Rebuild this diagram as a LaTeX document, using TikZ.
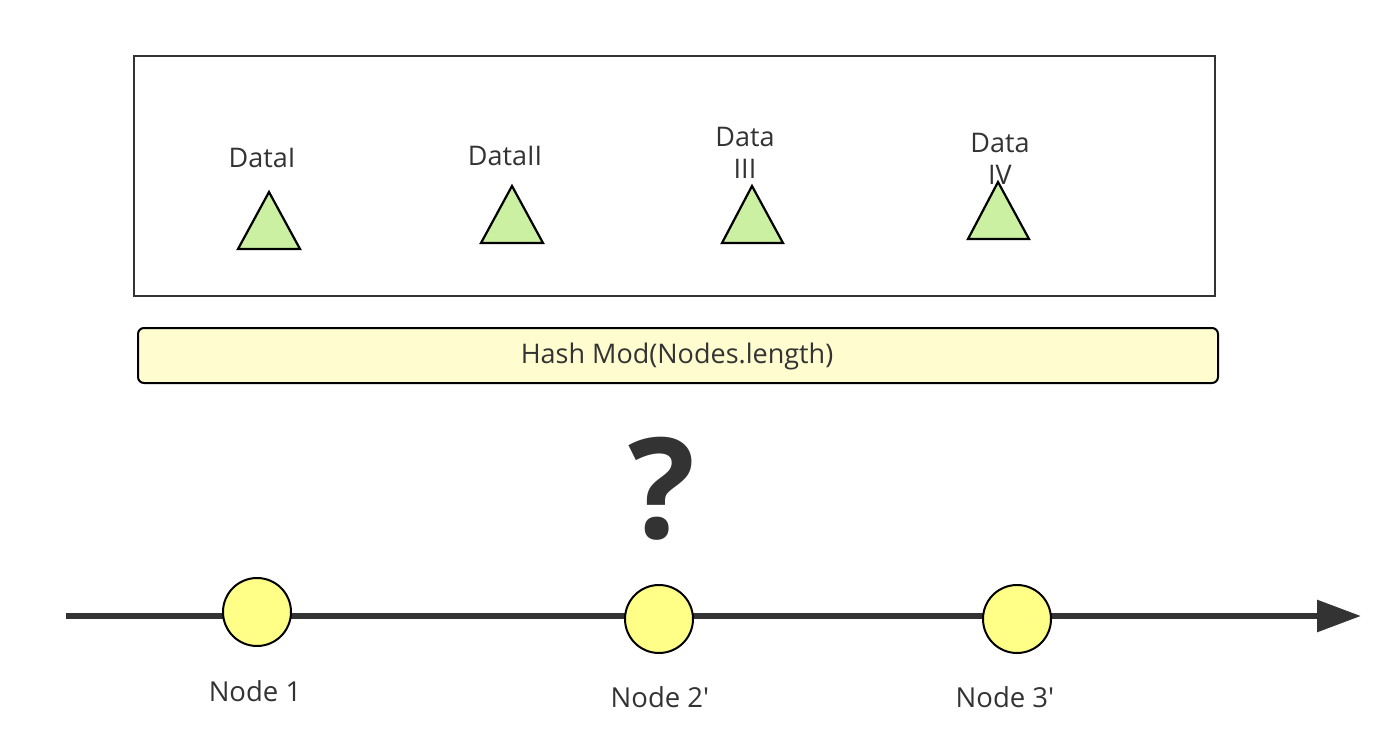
\documentclass[tikz,border=0pt]{standalone}
\usepackage{fontspec}
\setmainfont{Open Sans}
\newfontfamily\plainsans{Open Sans}
\usetikzlibrary{arrows.meta}
\definecolor{triFill}{HTML}{CBF0A2}
\definecolor{barFill}{HTML}{FFFDD0}
\definecolor{circFill}{HTML}{FFFF88}
\definecolor{ink}{HTML}{333333}
\tikzset{
  datatri/.style={draw=black, line width=2.2pt, fill=triFill, line join=miter},
  lbl/.style={text=ink, font=\plainsans\fontsize{27}{32}\selectfont, inner sep=0pt, align=center},
  nlbl/.style={lbl, font=\plainsans\fontsize{27.5}{30}\selectfont},
  ring/.style={circle, draw=black, line width=2pt, fill=circFill, minimum size=68pt, inner sep=0pt},
}
\begin{document}
\begin{tikzpicture}[x=1pt,y=-1pt]
\useasboundingbox (0,0) rectangle (1400,730);
% outer box
\node[draw=ink, line width=2pt, minimum width=1081pt, minimum height=240pt, inner sep=0pt] (box) at (674.5,176) {};
% triangles
\draw[datatri] (238,249) -- (269,192) -- (300,249) -- cycle;
\draw[datatri] (481,243) -- (512,186) -- (543,243) -- cycle;
\draw[datatri] (722,243) -- (752,186) -- (783,243) -- cycle;
\draw[datatri] (968,239) -- (998,182) -- (1029,239) -- cycle;
\node[lbl] (d1) at (262,158) {DataI};
\node[lbl] (d2) at (505,156) {DataII};
\node[lbl] (d3) at (745,153) {Data\\III};
\node[lbl] (d4) at (1000,159) {Data\\IV};
% hash bar
\node[draw=black, line width=2pt, fill=barFill, rounded corners=6pt, minimum width=1080pt, minimum height=55pt, inner sep=0pt] (hash) at (678,355.5) {};
\node[lbl] (hashlbl) at (677,356) {Hash Mod(Nodes.length)};
% question mark
\node[text=ink, font=\plainsans\bfseries\fontsize{140}{140}\selectfont, inner sep=0pt] (q) at (662,489) {?};
% axis
\coordinate (axs) at (66,616);
\coordinate (axe) at (1361,616);
\draw[ink, line width=6pt, -{Triangle[length=44pt,width=31pt]}] (axs) -- (axe);
% nodes
\node[ring] (n1) at (257,612) {};
\node[ring] (n2) at (659,619) {};
\node[ring] (n3) at (1017,619) {};
\node[nlbl] (l1) at (255,691) {Node 1};
\node[nlbl] (l2) at (660,697) {Node 2'};
\node[nlbl] (l3) at (1005,697) {Node 3'};
\end{tikzpicture}
\end{document}
